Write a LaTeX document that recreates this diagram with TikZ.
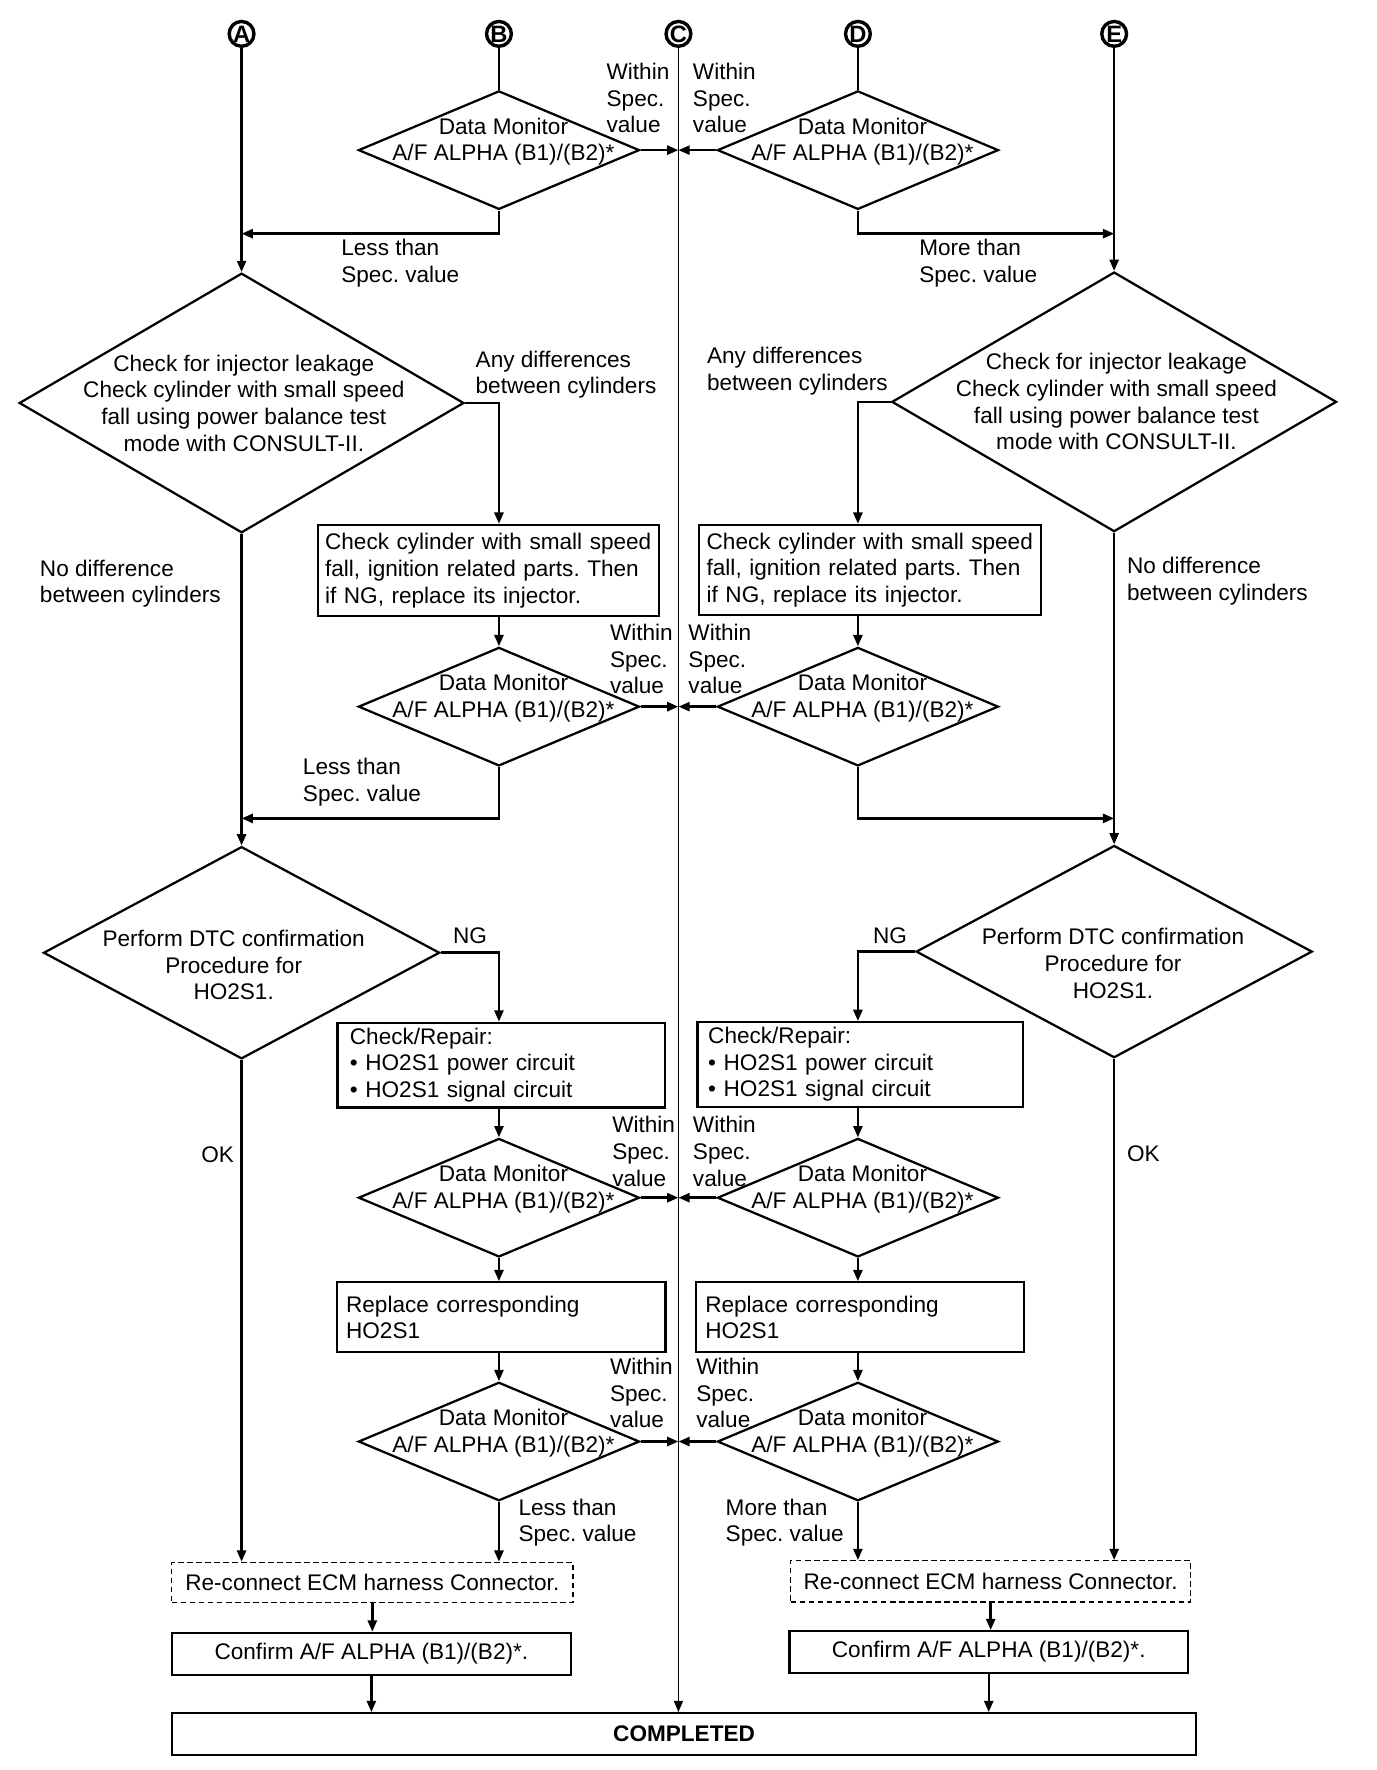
\documentclass[tikz,border=0pt]{standalone}
\usepackage{fontspec}
\setmainfont{Liberation Sans}
\usepackage{tikz}
\usetikzlibrary{positioning,arrows.meta,shapes.geometric}
\frenchspacing

\begin{document}
\begin{tikzpicture}[x=0.5pt,y=-0.5pt,
  font=\fontsize{10}{11.8}\selectfont,
  ln/.style={line width=1.1pt},
  arr/.style={line width=1.1pt,-{Triangle[length=5pt,width=4pt]}},
  letter/.style={circle,draw,line width=1.5pt,inner sep=0pt,minimum size=11pt,font=\fontsize{10.5}{10.5}\selectfont\bfseries},
  dmon/.style={diamond,draw,line width=1pt,inner sep=0pt,minimum width=124.5pt,minimum height=52.5pt,
    label={[align=center,xshift=2pt,yshift=3.75pt]center:#1}},
  checkd/.style={diamond,draw,line width=1pt,inner sep=0pt,minimum width=197pt,minimum height=115pt,
    label={[align=center,xshift=1pt]center:#1}},
  dtcd/.style={diamond,draw,line width=1pt,inner sep=0pt,minimum width=175.5pt,minimum height=94pt},
  box/.style={draw,line width=1pt,align=left,inner ysep=0pt,anchor=north west},
  cbox/.style={draw,line width=1pt,align=center,inner sep=0pt,anchor=north west},
  dbox/.style={cbox,line width=0.6pt,dash pattern=on 2.5pt off 1.5pt},
  lbl/.style={align=left,inner sep=0pt,anchor=west}]
\fill[white] (0,0) rectangle (1219,1568);

% entry points
\node[letter] (cA) at (214,30) {A};
\node[letter] (cB) at (442,30) {B};
\node[letter] (cC) at (601,30) {C};
\node[letter] (cD) at (760,30) {D};
\node[letter] (cE) at (987,30) {E};

% left side (A, B)
\node[dmon={Data Monitor\\A/F ALPHA (B1)/(B2)*}] (dB) at (442,133) {};
\node[checkd={Check for injector leakage\\Check cylinder with small speed\\fall using power balance test\\mode with CONSULT-II.}] (chkdL) at (214,357) {};
\node[box,text width=145pt,inner xsep=3pt,minimum height=40.5pt] (injL) at (281,464) {Check cylinder with small speed\\fall, ignition related parts. Then\\if NG, replace its injector.};
\node[dmon={Data Monitor\\A/F ALPHA (B1)/(B2)*}] (dL2) at (442,626) {};
\node[dtcd,label={[align=center,xshift=-3.5pt,yshift=-5.5pt]center:Perform DTC confirmation\\Procedure for\\HO2S1.}] (dtcL) at (214,844) {};
\node[box,text width=134pt,inner xsep=5.5pt,minimum height=37.5pt] (crL) at (298,905) {Check/Repair:\\\textbullet{} HO2S1 power circuit\\\textbullet{} HO2S1 signal circuit};
\node[dmon={Data Monitor\\A/F ALPHA (B1)/(B2)*}] (dL3) at (442,1061) {};
\node[box,text width=137.5pt,inner xsep=4pt,minimum height=31pt] (rpL) at (297.6,1135) {Replace corresponding\\HO2S1};
\node[dmon={Data Monitor\\A/F ALPHA (B1)/(B2)*}] (dL4) at (442,1277) {};
\node[dbox,minimum width=177.75pt,minimum height=17.75pt] (recL) at (151.5,1383.5) {Re-connect ECM harness Connector.};
\node[cbox,minimum width=176.5pt,minimum height=18.75pt] (cfL) at (151.5,1445.5) {Confirm A/F ALPHA (B1)/(B2)*.};

% right side (D, E)
\node[dmon={Data Monitor\\A/F ALPHA (B1)/(B2)*}] (dD) at (760,133) {};
\node[checkd={Check for injector leakage\\Check cylinder with small speed\\fall using power balance test\\mode with CONSULT-II.}] (chkdR) at (987,356) {};
\node[box,text width=144.5pt,inner xsep=3.5pt,minimum height=40pt] (injR) at (618,464) {Check cylinder with small speed\\fall, ignition related parts. Then\\if NG, replace its injector.};
\node[dmon={Data Monitor\\A/F ALPHA (B1)/(B2)*}] (dR2) at (760,626) {};
\node[dtcd,label={[align=center,xshift=-0.5pt,yshift=-5.25pt]center:Perform DTC confirmation\\Procedure for\\HO2S1.}] (dtcR) at (987,843) {};
\node[box,text width=134.6pt,inner xsep=4.7pt,minimum height=37.5pt] (crR) at (617,904.5) {Check/Repair:\\\textbullet{} HO2S1 power circuit\\\textbullet{} HO2S1 signal circuit};
\node[dmon={Data Monitor\\A/F ALPHA (B1)/(B2)*}] (dR3) at (760,1061) {};
\node[box,text width=137pt,inner xsep=4pt,minimum height=31pt] (rpR) at (615.8,1135) {Replace corresponding\\HO2S1};
\node[dmon={Data monitor\\A/F ALPHA (B1)/(B2)*}] (dR4) at (760,1277) {};
\node[dbox,minimum width=177.3pt,minimum height=18.25pt] (recR) at (699.7,1382) {Re-connect ECM harness Connector.};
\node[cbox,minimum width=176.5pt,minimum height=18.5pt] (cfR) at (698.4,1444) {Confirm A/F ALPHA (B1)/(B2)*.};

\node[cbox,minimum width=453.5pt,minimum height=18.5pt,font=\fontsize{10}{11.8}\selectfont\bfseries] (done) at (151.5,1516.7) {COMPLETED};

% joints on the A and E lines
\coordinate (jA1) at (214,207);
\coordinate (jE1) at (987,207);
\coordinate (jA2) at (214,725);
\coordinate (jE2) at (987,725);

% trunks
\draw[arr] (cA) -- (chkdL.north);
\draw[arr] (chkdL.south) -- (dtcL.north);
\draw[arr] (dtcL.south) -- (dtcL.south |- recL.north);
\draw[arr] (cE) -- (chkdR.north);
\draw[arr] (chkdR.south) -- (dtcR.north);
\draw[arr] (dtcR.south) -- (dtcR.south |- recR.north);
\draw[line width=0.7pt,-{Triangle[length=5pt,width=4pt]}] (cC) -- (cC |- done.north);

% B and D
\draw[ln] (cB) -- (dB.north);
\draw[ln] (cD) -- (dD.north);
\draw[arr] (dB.east) -- (dB.east -| cC);
\draw[arr] (dD.west) -- (dD.west -| cC);
\draw[arr] (dB.south) |- (jA1);
\draw[arr] (dD.south) |- (jE1);

% injector checks
\draw[arr] (chkdL.east) -| (dL2.north |- injL.north);
\draw[arr] (dL2.north |- injL.south) -- (dL2.north);
\draw[arr] (dL2.east) -- (dL2.east -| cC);
\draw[arr] (dL2.south) |- (jA2);
\draw[arr] (chkdR.west) -| (dR2.north |- injR.north);
\draw[arr] (dR2.north |- injR.south) -- (dR2.north);
\draw[arr] (dR2.west) -- (dR2.west -| cC);
\draw[arr] (dR2.south) |- (jE2);

% HO2S1 checks
\draw[arr] (dtcL.east) -| (dL3.north |- crL.north);
\draw[arr] (dL3.north |- crL.south) -- (dL3.north);
\draw[arr] (dL3.east) -- (dL3.east -| cC);
\draw[arr] (dL3.south) -- (dL3.south |- rpL.north);
\draw[arr] (dL4.north |- rpL.south) -- (dL4.north);
\draw[arr] (dL4.east) -- (dL4.east -| cC);
\draw[arr] (dL4.south) -- (dL4.south |- recL.north);
\draw[arr] (dtcR.west) -| (dR3.north |- crR.north);
\draw[arr] (dR3.north |- crR.south) -- (dR3.north);
\draw[arr] (dR3.west) -- (dR3.west -| cC);
\draw[arr] (dR3.south) -- (dR3.south |- rpR.north);
\draw[arr] (dR4.north |- rpR.south) -- (dR4.north);
\draw[arr] (dR4.west) -- (dR4.west -| cC);
\draw[arr] (dR4.south) -- (dR4.south |- recR.north);

% to completed
\draw[arr] (recL.south) -- (recL.south |- cfL.north);
\draw[arr] (cfL.south) -- (cfL.south |- done.north);
\draw[arr] (recR.south) -- (recR.south |- cfR.north);
\draw[arr] (cfR.south) -- (cfR.south |- done.north);

% branch labels
\node[lbl] (w1) at (537,87) {Within\\Spec.\\value};
\node[lbl] (w2) at (613.5,87) {Within\\Spec.\\value};
\node[lbl] (lt1) at (302,233) {Less than\\Spec. value};
\node[lbl] (mt1) at (814,233) {More than\\Spec. value};
\node[lbl] (ad1) at (421,332) {Any differences\\between cylinders};
\node[lbl] (ad2) at (626,329) {Any differences\\between cylinders};
\node[lbl] (nd1) at (35,517) {No difference\\between cylinders};
\node[lbl] (nd2) at (998,515) {No difference\\between cylinders};
\node[lbl] (w3) at (540,584) {Within\\Spec.\\value};
\node[lbl] (w4) at (609.5,584) {Within\\Spec.\\value};
\node[lbl] (lt2) at (268,693) {Less than\\Spec. value};
\node[lbl] (ng1) at (401,829) {NG};
\node[lbl] (ng2) at (773,829) {NG};
\node[lbl] (ok1) at (178,1023) {OK};
\node[lbl] (ok2) at (998,1022) {OK};
\node[lbl] (w5) at (542,1020) {Within\\Spec.\\value};
\node[lbl] (w6) at (613.5,1020) {Within\\Spec.\\value};
\node[lbl] (w7) at (540,1234) {Within\\Spec.\\value};
\node[lbl] (w8) at (616.5,1234) {Within\\Spec.\\value};
\node[lbl] (lt3) at (459,1349) {Less than\\Spec. value};
\node[lbl] (mt2) at (642.5,1349) {More than\\Spec. value};
\end{tikzpicture}
\end{document}
